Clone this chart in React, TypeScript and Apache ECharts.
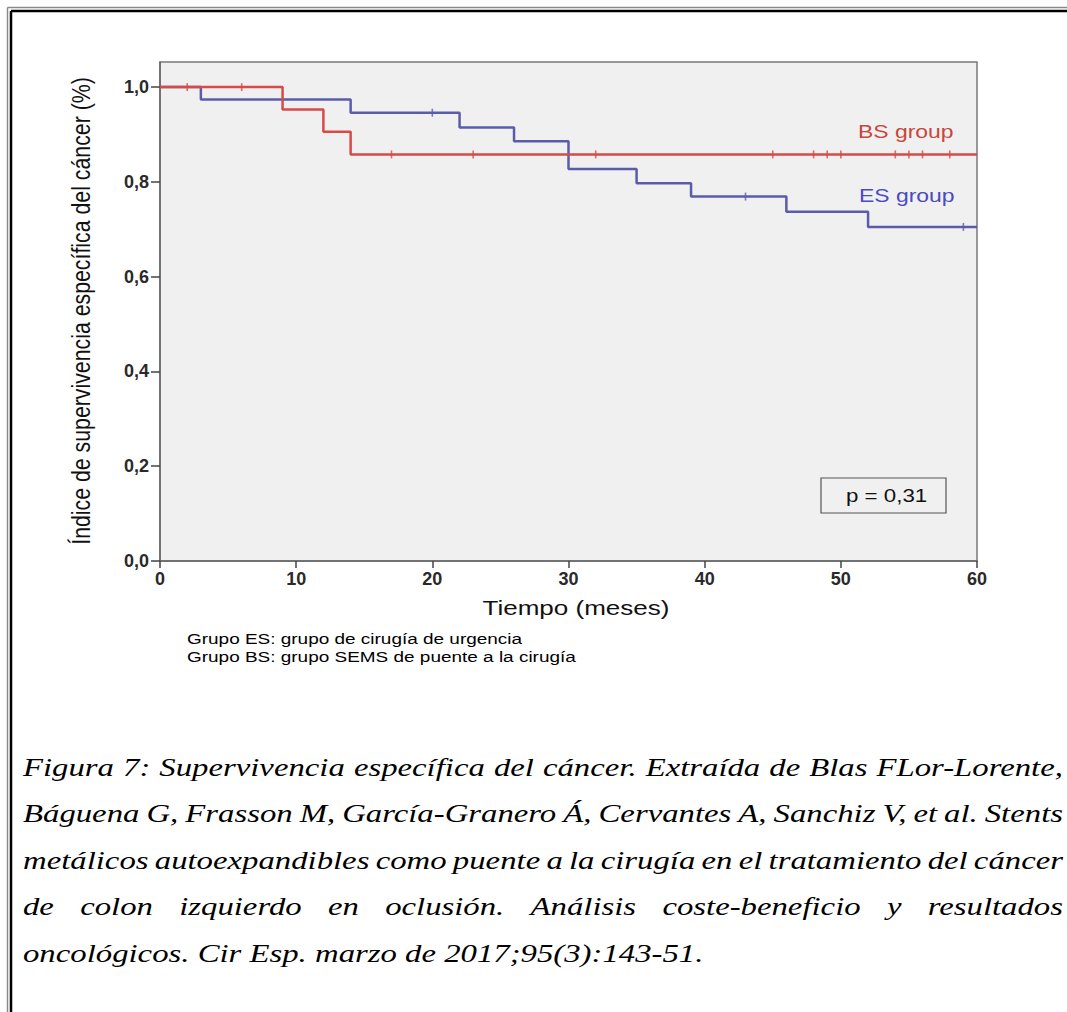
import React, { useEffect, useRef } from "react";
import * as echarts from "echarts";

// ---- data ----
const xTicks = [0, 10, 20, 30, 40, 50, 60];
const yTicks = [0, 0.2, 0.4, 0.6, 0.8, 1.0];

// BS group (SEMS as bridge to surgery) — Kaplan-Meier steps
const bsTimes = [0, 9, 12, 14, 60];
const bsSurv = [1.0, 0.953, 0.906, 0.858, 0.858];
const bsCensor = [2, 6, 17, 23, 32, 45, 48, 49, 50, 54, 55, 56, 58];

// ES group (emergency surgery) — Kaplan-Meier steps
const esTimes = [0, 3, 14, 22, 26, 30, 35, 39, 46, 52, 60];
const esSurv = [1.0, 0.974, 0.946, 0.915, 0.886, 0.827, 0.797, 0.769, 0.737, 0.705, 0.705];
const esCensor = [20, 43, 59];

const seriesNames = ["BS group", "ES group"];
const pValueText = "p = 0,31";
const xTitle = "Tiempo (meses)";
const yTitle = "Índice de supervivencia específica del cáncer (%)";
const footnotes = [
  "Grupo ES: grupo de cirugía de urgencia",
  "Grupo BS: grupo SEMS de puente a la cirugía",
];
const captionLines = [
  "Figura 7: Supervivencia específica del cáncer. Extraída de Blas FLor-Lorente,",
  "Báguena G, Frasson M, García-Granero Á, Cervantes A, Sanchiz V, et al. Stents",
  "metálicos autoexpandibles como puente a la cirugía en el tratamiento del cáncer",
  "de colon izquierdo en oclusión. Análisis coste-beneficio y resultados",
  "oncológicos. Cir Esp. marzo de 2017;95(3):143-51.",
];

const RED = "#d64a48";
const BLUE = "#5b5bab";
const RED_TXT = "#c8463c";
const BLUE_TXT = "#4a4ac4";

function stepValue(times: number[], surv: number[], t: number) {
  let v = surv[0];
  for (let i = 0; i < times.length; i++) if (times[i] <= t) v = surv[i];
  return v;
}

const SANS = "Liberation Sans";
const SX = 1.24; // horizontal stretch of the reference picture

export default function App() {
  const ref = useRef<HTMLDivElement>(null);
  useEffect(() => {
    if (!ref.current) return;
    const chart = echarts.init(ref.current, null, { renderer: "svg" });

    // caption layout (justified lines, word by word)
    const ctx = document.createElement("canvas").getContext("2d")!;
    ctx.font = 'italic 26px "Liberation Serif"';
    const capSX = 1.26;
    const L = 23;
    const R = 1063;
    const capY0 = 767;
    const capDY = 46.5;
    const capEls: any[] = [];
    captionLines.forEach((line, li) => {
      const y = capY0 + li * capDY;
      const justified = li < captionLines.length - 1;
      const mk = (text: string, x: number) => ({
        type: "text",
        x,
        y,
        scaleX: capSX,
        silent: true,
        z: 100,
        style: {
          text,
          fill: "#000",
          fontStyle: "italic",
          fontSize: 26,
          fontFamily: "Liberation Serif",
          align: "left",
          verticalAlign: "middle",
        },
      });
      if (!justified) {
        capEls.push(mk(line, L));
        return;
      }
      const words = line.split(" ");
      const ws = words.map((w) => ctx.measureText(w).width * capSX);
      const total = ws.reduce((a, b) => a + b, 0);
      const gap = (R - L - total) / (words.length - 1);
      let x = L;
      words.forEach((w, i) => {
        capEls.push(mk(w, x));
        x += ws[i] + gap;
      });
    });

    const sansText = (text: string, x: number, y: number, size: number, fill: string, extra: any = {}) => ({
      type: "text",
      x,
      y,
      scaleX: SX,
      silent: true,
      z: 100,
      ...extra,
      style: {
        text,
        fill,
        fontSize: size,
        fontFamily: SANS,
        align: "left",
        verticalAlign: "middle",
        ...(extra.style || {}),
      },
    });

    const tickLabel = {
      fontFamily: SANS,
      fontWeight: "bold",
      fontSize: 18,
      color: "#2a2a2a",
    };

    const option: any = {
      animation: false,
      backgroundColor: "#ffffff",
      grid: {
        left: 160,
        right: 90,
        top: 62,
        bottom: 451,
        show: true,
        backgroundColor: "#f0f0f0",
        borderColor: "#7a7a7a",
        borderWidth: 1.5,
      },
      xAxis: {
        type: "value",
        min: 0,
        max: 60,
        interval: 10,
        axisLine: { show: true, onZero: false, lineStyle: { color: "#666", width: 1.5 } },
        axisTick: { show: true, length: 7, customValues: xTicks, lineStyle: { color: "#444", width: 1.5 } },
        axisLabel: { customValues: xTicks, margin: 9, ...tickLabel },
        splitLine: { show: false },
      },
      yAxis: {
        type: "value",
        min: 0,
        max: 1.053,
        axisLine: { show: true, onZero: false, lineStyle: { color: "#666", width: 1.5 } },
        axisTick: { show: true, length: 9, customValues: yTicks, lineStyle: { color: "#444", width: 1.5 } },
        axisLabel: {
          customValues: yTicks,
          margin: 11,
          ...tickLabel,
          formatter: (v: number) => v.toFixed(1).replace(".", ","),
        },
        splitLine: { show: false },
      },
      series: [
        {
          name: seriesNames[1],
          type: "line",
          step: "end",
          showSymbol: false,
          data: esTimes.map((t, i) => [t, esSurv[i]]),
          lineStyle: { color: BLUE, width: 2.5 },
          itemStyle: { color: BLUE },
          z: 3,
        },
        {
          name: seriesNames[1] + " censored",
          type: "scatter",
          symbol: "rect",
          symbolSize: [1.6, 8],
          data: esCensor.map((t) => [t, stepValue(esTimes, esSurv, t)]),
          itemStyle: { color: BLUE },
          z: 4,
        },
        {
          name: seriesNames[0],
          type: "line",
          step: "end",
          showSymbol: false,
          data: bsTimes.map((t, i) => [t, bsSurv[i]]),
          lineStyle: { color: RED, width: 2.5 },
          itemStyle: { color: RED },
          z: 5,
        },
        {
          name: seriesNames[0] + " censored",
          type: "scatter",
          symbol: "rect",
          symbolSize: [1.6, 8],
          data: bsCensor.map((t) => [t, stepValue(bsTimes, bsSurv, t)]),
          itemStyle: { color: RED },
          z: 6,
        },
      ],
      graphic: {
        elements: [
          // page double border (extends past right / bottom)
          { type: "line", silent: true, shape: { x1: 7.5, y1: 7.5, x2: 1080, y2: 7.5 }, style: { stroke: "#8a8a8a", lineWidth: 1.5 } },
          { type: "line", silent: true, shape: { x1: 7.5, y1: 7.5, x2: 7.5, y2: 1030 }, style: { stroke: "#8a8a8a", lineWidth: 1.5 } },
          { type: "line", silent: true, shape: { x1: 11, y1: 11, x2: 1080, y2: 11 }, style: { stroke: "#000", lineWidth: 2.5 } },
          { type: "line", silent: true, shape: { x1: 11, y1: 11, x2: 11, y2: 1030 }, style: { stroke: "#000", lineWidth: 2.5 } },
          // series labels
          sansText(seriesNames[0], 858, 131, 18.5, RED_TXT),
          sansText(seriesNames[1], 859, 195, 18.5, BLUE_TXT),
          // p-value box
          {
            type: "rect",
            silent: true,
            z: 90,
            shape: { x: 821, y: 478, width: 125, height: 35 },
            style: { fill: "#f0f0f0", stroke: "#555", lineWidth: 1.2 },
          },
          sansText(pValueText, 846, 496, 18, "#111"),
          // axis titles
          sansText(xTitle, 576, 608, 21, "#111", { style: { align: "center" } }),
          {
            type: "text",
            x: 81,
            y: 311,
            rotation: Math.PI / 2,
            scaleY: SX,
            silent: true,
            z: 100,
            style: {
              text: yTitle,
              fill: "#111",
              fontSize: 21.3,
              fontFamily: SANS,
              align: "center",
              verticalAlign: "middle",
            },
          },
          // footnotes
          sansText(footnotes[0], 187, 639, 15.3, "#000"),
          sansText(footnotes[1], 187, 657, 15.3, "#000"),
          ...capEls,
        ],
      },
    };
    chart.setOption(option);
    return () => chart.dispose();
  }, []);

  return (
    <div
      ref={ref}
      style={{ position: "absolute", left: 0, top: 0, width: 1067, height: 1012, background: "#fff" }}
    />
  );
}
